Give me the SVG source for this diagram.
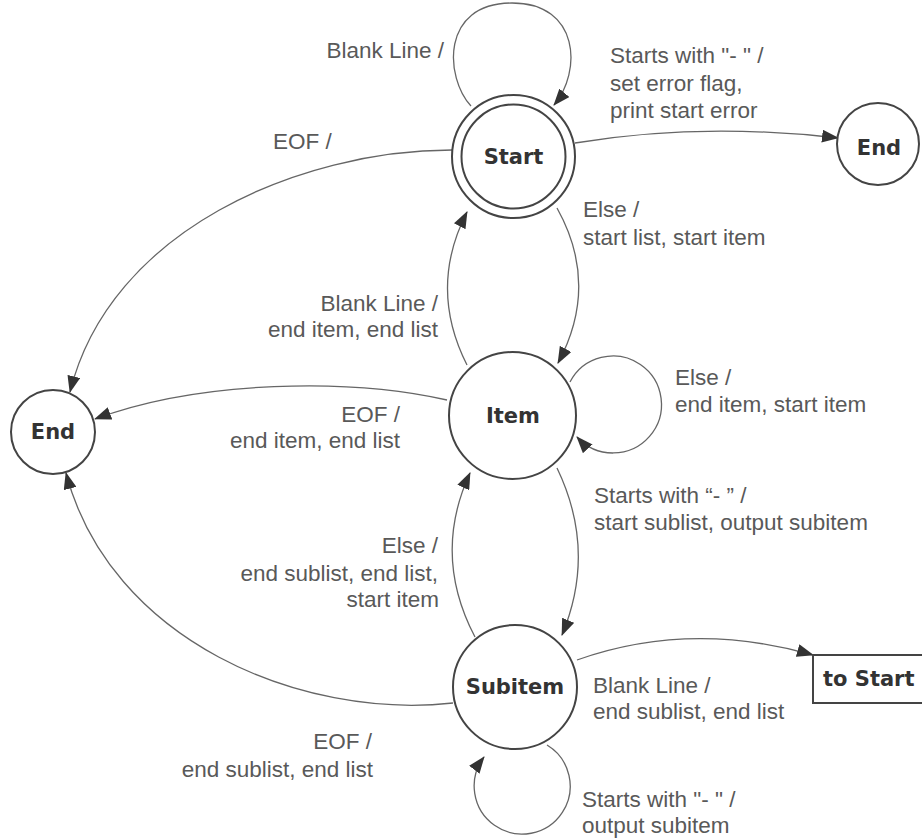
<svg xmlns="http://www.w3.org/2000/svg" width="922" height="839" viewBox="0 0 922 839">
<style>
.node{fill:#fff;stroke:#444;stroke-width:2}
.nl{font-family:"DejaVu Sans",Verdana,sans-serif;font-weight:bold;font-size:21px;fill:#333;text-anchor:middle}
.el{font-family:"Liberation Sans",Arial,sans-serif;font-size:22.5px;fill:#595959}
.r{text-anchor:end}
.edge{fill:none;stroke:#666;stroke-width:1.3;marker-end:url(#ah)}
</style>
<defs>
<marker id="ah" markerUnits="userSpaceOnUse" markerWidth="17" markerHeight="13" refX="16" refY="6.5" orient="auto">
<path d="M0,0 L17,6.5 L0,13 Z" fill="#333"/>
</marker>
</defs>
<rect width="922" height="839" fill="#fff"/>
<g id="connectors">
<path class="edge" d="M471,106 C445,78 440,3 512,3 C580,3 582,72 554,105"/>
<path class="edge" d="M575,143 Q700,122 838,138"/>
<path class="edge" d="M452,150 C300,150 110,230 70,392"/>
<path class="edge" d="M557,208 Q600,285 558,363"/>
<path class="edge" d="M467,365 Q428,288 467,212"/>
<path class="edge" d="M570,382 A48.5,48.5 0 1 1 577,437"/>
<path class="edge" d="M447,400 C350,378 200,380 95,419"/>
<path class="edge" d="M557,468 Q597,551 562,635"/>
<path class="edge" d="M475,637 Q432,555 470,473"/>
<path class="edge" d="M453,703 C300,720 110,640 66,473"/>
<path class="edge" d="M577,660 Q690,620 813,655"/>
<path class="edge" d="M547,745 A48,48 0 1 1 484,757"/>
</g>
<g id="labels">
<text class="el r" x="444" y="58">Blank Line /</text>
<text class="el" x="610" y="63">Starts with "- " /</text>
<text class="el" x="610" y="91">set error flag,</text>
<text class="el" x="610" y="118">print start error</text>
<text class="el" x="273" y="149">EOF /</text>
<text class="el" x="583" y="217">Else /</text>
<text class="el" x="583" y="245">start list, start item</text>
<text class="el r" x="438" y="311">Blank Line /</text>
<text class="el r" x="438" y="337">end item, end list</text>
<text class="el" x="675" y="385">Else /</text>
<text class="el" x="675" y="412">end item, start item</text>
<text class="el r" x="400" y="422">EOF /</text>
<text class="el r" x="400" y="448">end item, end list</text>
<text class="el" x="594" y="503">Starts with “- ” /</text>
<text class="el" x="594" y="530">start sublist, output subitem</text>
<text class="el r" x="438" y="553">Else /</text>
<text class="el r" x="438" y="581">end sublist, end list,</text>
<text class="el r" x="439" y="607">start item</text>
<text class="el" x="593" y="693">Blank Line /</text>
<text class="el" x="593" y="719">end sublist, end list</text>
<text class="el r" x="372" y="749">EOF /</text>
<text class="el r" x="373" y="777">end sublist, end list</text>
<text class="el" x="582" y="807">Starts with "- " /</text>
<text class="el" x="582" y="833">output subitem</text>
</g>
<g id="start">
<circle class="node" cx="513.5" cy="156.5" r="61.5"/>
<circle class="node" cx="513.5" cy="156.5" r="52"/>
<text class="nl" x="513.5" y="164">Start</text>
</g>
<g id="end-right">
<circle class="node" cx="878" cy="144" r="41"/>
<text class="nl" x="879" y="155">End</text>
</g>
<g id="item">
<circle class="node" cx="512.5" cy="415.5" r="63.5"/>
<text class="nl" x="513" y="423">Item</text>
</g>
<g id="end-left">
<circle class="node" cx="53" cy="432" r="42"/>
<text class="nl" x="53" y="439">End</text>
</g>
<g id="subitem">
<circle class="node" cx="515" cy="687" r="62"/>
<text class="nl" x="515" y="694">Subitem</text>
</g>
<g id="to-start">
<rect class="node" x="813" y="655" width="120" height="48"/>
<text class="nl" x="823" y="686" style="text-anchor:start">to Start</text>
</g>
</svg>
